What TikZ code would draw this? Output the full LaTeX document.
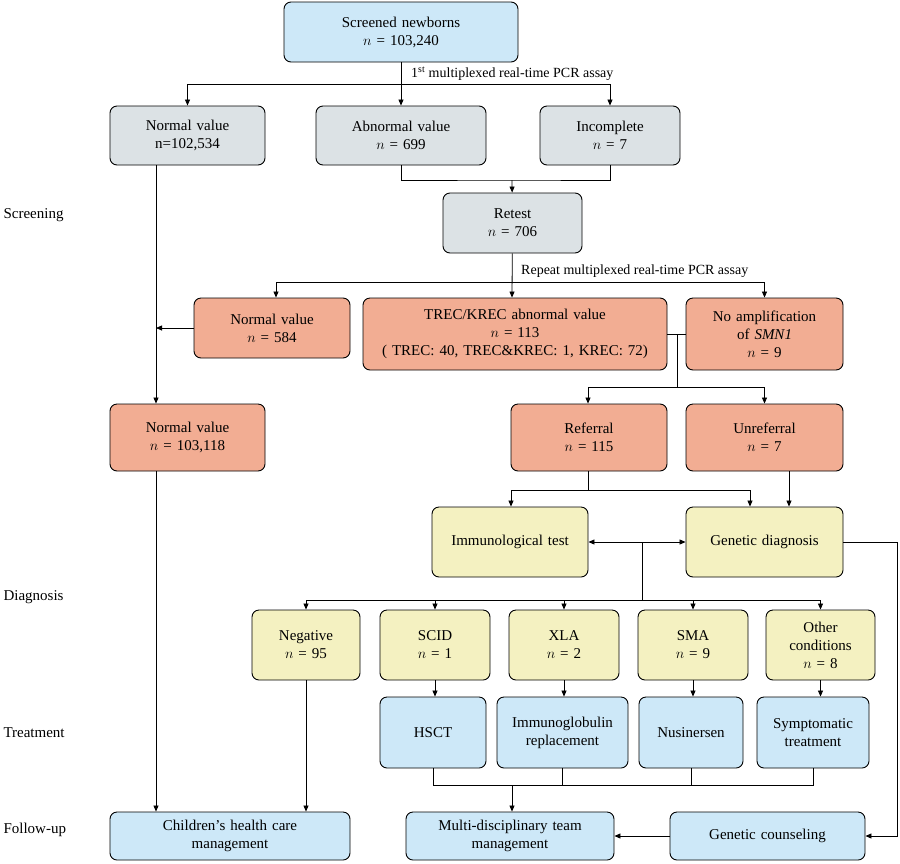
\documentclass[tikz,border=0pt]{standalone}
\usepackage{fontspec}
\setmainfont{Liberation Serif}
\usetikzlibrary{arrows.meta}
\definecolor{bluebox}{HTML}{CDE8F8}
\definecolor{greybox}{HTML}{DCE2E5}
\definecolor{redbox}{HTML}{F2AD93}
\definecolor{yellowbox}{HTML}{F4F1C1}
\tikzset{
  box/.style={draw, line width=0.9pt, rounded corners=7pt, align=center,
    font=\fontsize{15}{18}\selectfont, inner sep=2pt},
  grey/.style={box, fill=greybox},
  red/.style={box, fill=redbox},
  yel/.style={box, fill=yellowbox},
  blu/.style={box, fill=bluebox},
  arr/.style={-{Triangle[length=6pt,width=5pt]}, line width=0.8pt},
  ln/.style={line width=0.8pt},
  stage/.style={anchor=west, font=\fontsize{15}{18}\selectfont},
}
\newcommand{\bx}[6]{% style, name, left, top, right, bottom
  \node[#1, minimum width={#5-#3}, minimum height={#6-#4}, text width={#5-#3-8}]
    (#2) at ({(#3+#5)/2},{(#4+#6)/2})}
\begin{document}
\begin{tikzpicture}[x=1pt,y=-1pt]
  \useasboundingbox (0,0) rectangle (900,863);
  % screening
  \bx{blu}{screened}{284}{2}{518}{62} {Screened newborns\\$n$ = 103,240};
  \bx{grey}{normA}{110}{106}{265}{165} {Normal value\\n=102,534};
  \bx{grey}{abnorm}{316}{106}{486}{165} {Abnormal value\\$n$ = 699};
  \bx{grey}{incompl}{540}{106}{680}{165} {Incomplete\\$n$ = 7};
  \bx{grey}{retest}{443}{193}{582}{253} {Retest\\$n$ = 706};
  \bx{red}{normB}{194}{298}{350}{358} {Normal value\\$n$ = 584};
  \bx{red}{trec}{363}{298}{667}{370} {TREC/KREC abnormal value\\$n$ = 113\\( TREC: 40, TREC\&KREC: 1, KREC: 72)};
  \bx{red}{noamp}{686}{298}{843}{370} {No amplification\\of \textit{SMN1}\\$n$ = 9};
  \bx{red}{normC}{110}{404}{265}{471} {Normal value\\$n$ = 103,118};
  \bx{red}{referral}{511}{404}{667}{471} {Referral\\$n$ = 115};
  \bx{red}{unref}{686}{404}{843}{471} {Unreferral\\$n$ = 7};
  % diagnosis
  \bx{yel}{immuno}{432}{507}{588}{577} {Immunological test};
  \bx{yel}{genetic}{686}{507}{843}{577} {Genetic diagnosis};
  \bx{yel}{negative}{252}{610}{360}{680} {Negative\\$n$ = 95};
  \bx{yel}{scid}{380}{610}{490}{680} {SCID\\$n$ = 1};
  \bx{yel}{xla}{509}{610}{619}{680} {XLA\\$n$ = 2};
  \bx{yel}{sma}{638}{610}{748}{680} {SMA\\$n$ = 9};
  \bx{yel}{other}{766}{610}{875}{680} {Other\\conditions\\$n$ = 8};
  % treatment
  \bx{blu}{hsct}{380}{697}{486}{768} {HSCT};
  \bx{blu}{igrep}{497}{697}{628}{768} {Immunoglobulin\\replacement};
  \bx{blu}{nusin}{639}{697}{743}{768} {Nusinersen};
  \bx{blu}{sympt}{757}{697}{869}{768} {Symptomatic\\treatment};
  % follow-up
  \bx{blu}{children}{110}{812}{350}{860} {Children's health care\\management};
  \bx{blu}{mdt}{406}{812}{614}{860} {Multi-disciplinary team\\management};
  \bx{blu}{counsel}{670}{812}{865}{860} {Genetic counseling};
  % stage labels
  \node[stage] (lScreen) at (0,215) {Screening};
  \node[stage] (lDiag) at (0,597) {Diagnosis};
  \node[stage] (lTreat) at (0,733) {Treatment};
  \node[stage] (lFollow) at (0,830) {Follow-up};
  % connectors
  \coordinate (j1) at (401,84);
  \draw[arr] (screened) -- (abnorm);
  \draw[arr] (j1) -| (normA);
  \draw[arr] (j1) -| (incompl);
  \node[anchor=south west, font=\fontsize{14}{16}\selectfont, inner sep=1pt] (pcr1) at (410,82)
    {1\textsuperscript{st} multiplexed real-time PCR assay};
  \coordinate (j2) at (512,180);
  \draw[ln] (abnorm.south) |- (j2) -| (incompl.south);
  \draw[arr] (j2) -- (retest);
  \coordinate (j3) at (512,282);
  \draw[arr] (retest) -- (trec.north -| j3);
  \draw[arr] (j3) -| (normB.north -| 276,0);
  \draw[arr] (j3) -| (noamp);
  \node[anchor=south west, font=\fontsize{14}{16}\selectfont, inner sep=1pt] (pcr2) at (520,279)
    {Repeat multiplexed real-time PCR assay};
  \draw[arr] (normA.south -| 156,0) -- (normC.north -| 156,0);
  \draw[arr] (normB.west) -- (normB.west -| 156,0);
  \coordinate (j4) at (677,335);
  \draw[ln] (trec.east) -- (noamp.west);
  \draw[ln] (j4) -- (677,387);
  \draw[arr] (677,387) -| (referral.north -| 588,0);
  \draw[arr] (677,387) -| (unref);
  \coordinate (j5) at (588,490);
  \draw[ln] (referral.south -| j5) -- (j5);
  \draw[arr] (j5) -| (immuno.north -| 511,0);
  \draw[arr] (j5) -| (genetic.north -| 750,0);
  \draw[arr] (unref.south -| 789,0) -- (genetic.north -| 789,0);
  \coordinate (j6) at (642,542);
  \draw[arr] (j6) -- (immuno.east);
  \draw[arr] (j6) -- (genetic.west);
  \draw[ln] (j6) -- (642,600);
  \draw[ln] (negative.north |- 0,600) -- (other.north |- 0,600);
  \foreach \d in {negative,scid,xla,sma,other}
    \draw[arr] (\d.north |- 0,600) -- (\d.north);
  \draw[arr] (scid) -- (hsct.north -| scid);
  \draw[arr] (xla) -- (igrep.north -| xla);
  \draw[arr] (sma) -- (nusin.north -| sma);
  \draw[arr] (other) -- (sympt.north -| other);
  \draw[arr] (negative) -- (children.north -| negative);
  \draw[arr] (normC.south -| 156,0) -- (children.north -| 156,0);
  \draw[ln] (hsct.south) |- (sympt.south |- 0,785) -- (sympt.south);
  \draw[ln] (igrep.south) -- (igrep.south |- 0,785);
  \draw[ln] (nusin.south) -- (nusin.south |- 0,785);
  \draw[arr] (512,785) -- (mdt.north -| 512,0);
  \draw[arr] (genetic.east) -| (897,836) -- (counsel.east);
  \draw[arr] (counsel) -- (mdt);
\end{tikzpicture}
\end{document}
